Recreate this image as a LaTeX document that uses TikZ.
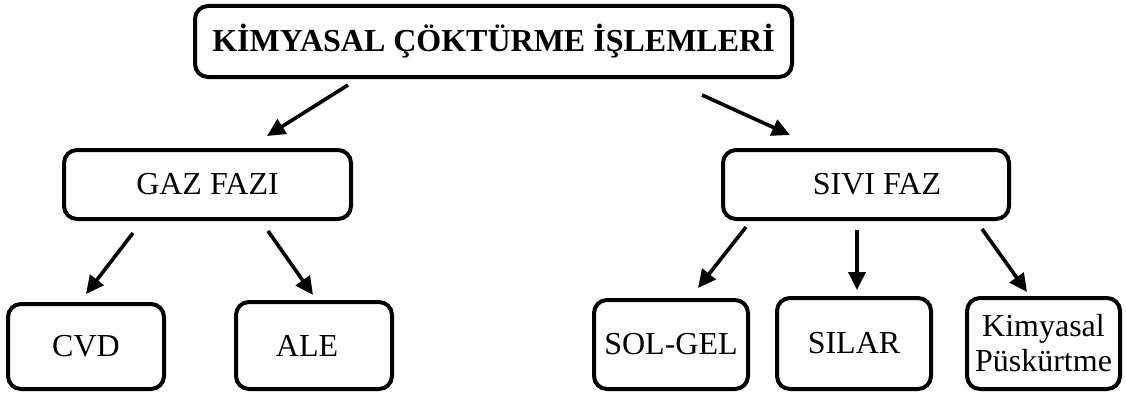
\documentclass[tikz,border=0pt]{standalone}
\usepackage{fontspec}
\setmainfont{Liberation Serif}
\usetikzlibrary{positioning,arrows.meta}

\begin{document}
\begin{tikzpicture}[
        x=1pt, y=1pt,
        font=\fontsize{32}{35}\selectfont,
        box/.style={draw, line width=4pt, rounded corners=13pt, align=center, inner sep=0pt},
        line/.style={-{Triangle[length=18pt, width=17pt]}, line width=3.6pt}
    ]
        \useasboundingbox (0,0) rectangle (1126,392);

        \node[box, minimum width=597pt, minimum height=71pt] (root) at (493.5,350.5) {\bfseries KİMYASAL ÇÖKTÜRME İŞLEMLERİ};
        \node[box, minimum width=287pt, minimum height=69pt] (gas) at (207.5,207.5) {GAZ FAZI};
        \node[box, minimum width=286pt, minimum height=69pt] (liquid) at (866,207.5) {\hspace*{22pt}SIVI FAZ};
        \node[box, minimum width=156pt, minimum height=85pt] (cvd) at (86,45.5) {CVD};
        \node[box, minimum width=156pt, minimum height=87pt] (ale) at (314,46.5) {ALE\hspace*{14pt}};
        \node[box, minimum width=154pt, minimum height=89pt] (solgel) at (671,47.5) {SOL-GEL};
        \node[box, minimum width=154pt, minimum height=91pt] (silar) at (854,48.5) {SILAR};
        \node[box, minimum width=153pt, minimum height=91pt] (spray) at (1043.5,48.5) {Kimyasal\\Püskürtme};

        \draw[line] ([xshift=-145.5pt, yshift=-6pt]root.south) -- ([xshift=59.5pt, yshift=12pt]gas.north);
        \draw[line] ([xshift=208.5pt, yshift=-16pt]root.south) -- ([xshift=-76pt, yshift=13pt]liquid.north);
        \draw[line] ([xshift=-74.5pt, yshift=-12pt]gas.south) -- ([yshift=8pt]cvd.north);
        \draw[line] ([xshift=60.5pt, yshift=-10pt]gas.south) -- ([xshift=-1pt, yshift=5pt]ale.north);
        \draw[line] ([xshift=-120pt, yshift=-6pt]liquid.south) -- ([xshift=27pt, yshift=10pt]solgel.north);
        \draw[line] ([xshift=-9pt, yshift=-9pt]liquid.south) -- ([xshift=3pt, yshift=6pt]silar.north);
        \draw[line] ([xshift=116pt, yshift=-8pt]liquid.south) -- ([xshift=-16.5pt, yshift=4pt]spray.north);
    \end{tikzpicture}
\end{document}
